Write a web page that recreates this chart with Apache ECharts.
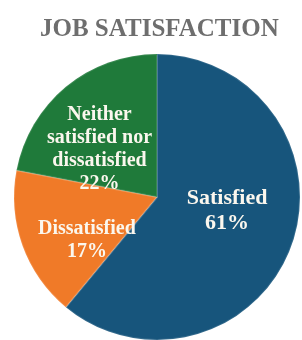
<!DOCTYPE html>
<html>
<head>
<meta charset="utf-8">
<script src="https://cdn.jsdelivr.net/npm/echarts@6/dist/echarts.min.js"></script>
<style>
  html, body { margin: 0; padding: 0; background: #fff; }
  #main { width: 302px; height: 340px; }
</style>
</head>
<body>
<div id="main"></div>
<script>
// data
const categories = ['Satisfied', 'Dissatisfied', 'Neither satisfied nor dissatisfied']
const shares = [61, 17, 22]
const colors = ['#17557c', '#f07a28', '#1f7a3a']

// label line breaks as in the picture
const labelNames = {
  'Neither satisfied nor dissatisfied': 'Neither\nsatisfied nor\ndissatisfied'
}

const serif = "'Liberation Serif', 'DejaVu Serif', serif"
const chart = echarts.init(document.getElementById('main'))

chart.setOption({
  animation: false,
  title: {
    text: 'JOB SATISFACTION',
    left: 35,
    top: 12,
    textStyle: {
      fontFamily: serif,
      fontWeight: 'bold',
      fontSize: 25,
      color: '#6e6e6e'
    }
  },
  series: [{
    type: 'pie',
    center: [157, 197],
    radius: 143,
    startAngle: 90,
    clockwise: true,
    percentPrecision: 0,
    itemStyle: {
      borderColor: 'rgba(255,255,255,0.12)',
      borderWidth: 2
    },
    label: {
      show: true,
      position: 'inside',
      formatter: p => (labelNames[p.name] || p.name) + '\n' + p.value + '%',
      color: '#fbf7ee',
      fontFamily: serif,
      fontWeight: 'bold',
      fontSize: 20,
      lineHeight: 23
    },
    labelLine: { show: false },
    emphasis: { disabled: true },
    data: categories.map((name, i) => ({
      name: name,
      value: shares[i],
      itemStyle: { color: colors[i] },
      // nudge labels to where the reference puts them
      label: {
        offset: [[0, -11], [0, 18], [-10, 10]][i],
        fontSize: i === 0 ? 22 : 20,
        lineHeight: i === 0 ? 25 : 23
      }
    }))
  }]
})
</script>
</body>
</html>
